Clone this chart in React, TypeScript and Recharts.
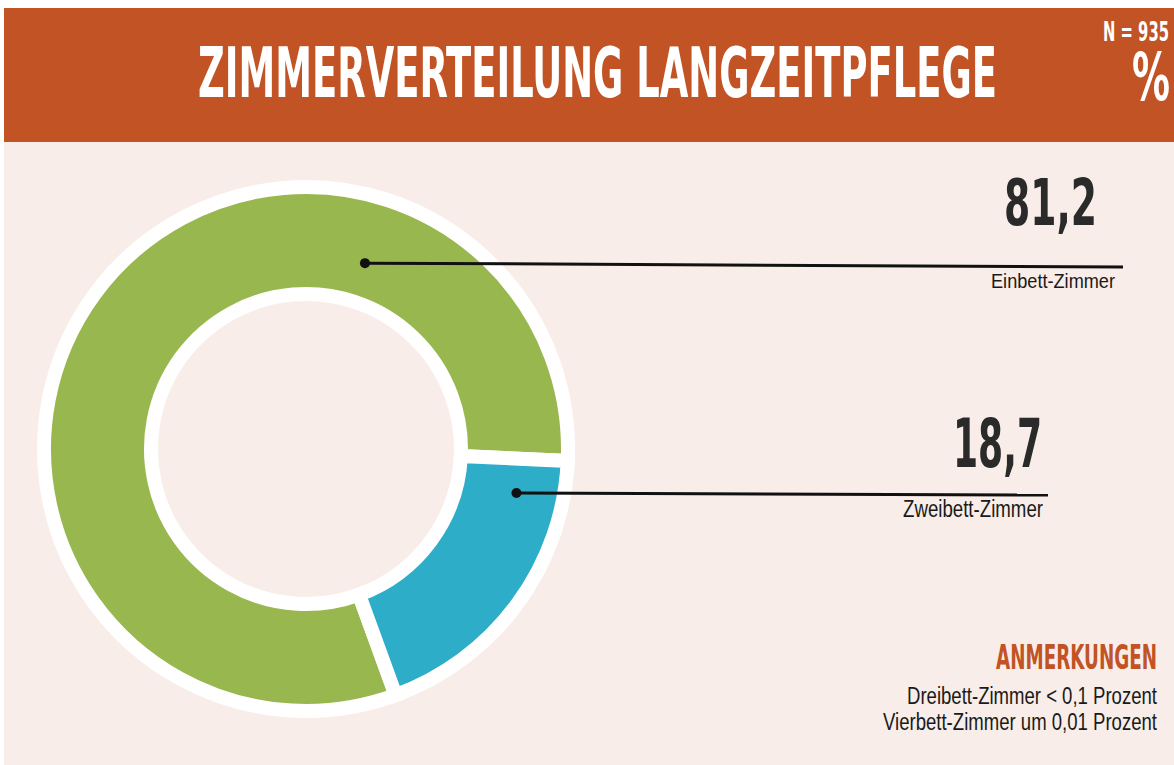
import React from "react";
import { PieChart, Pie, Cell } from "recharts";

const categories = ["Einbett-Zimmer", "Zweibett-Zimmer"];
const shares = [81.2, 18.7];
const sliceColors = ["#98B84F", "#2EADC8"];
const notes = ["Dreibett-Zimmer < 0,1 Prozent", "Vierbett-Zimmer um 0,01 Prozent"];
const title = "ZIMMERVERTEILUNG LANGZEITPFLEGE";
const sampleNote = "N = 935";

const pieData = categories.map((name, i) => ({ name, value: shares[i] }));

const DISPLAY = "'DejaVu Sans Condensed', 'Liberation Sans', sans-serif";
const NARROW = "'Liberation Sans', Arial, sans-serif";
const ORANGE = "#C15324";
const BG = "#F8EDE8";
const INK = "#2A2A2A";

// where each leader line starts (on the ring) and where its labels sit
const leaders = [
  { angle: 72.4, r: 195, x2: 1123, y2: 267, valueX: 1097, valueY: 225, valueSize: 64, valueW: 93, nameX: 1115, nameY: 288, nameSize: 21, nameW: 124 },
  { angle: -11.8, r: 215, x2: 1048, y2: 495, valueX: 1042, valueY: 467, valueSize: 68, valueW: 89, nameX: 1043, nameY: 517, nameSize: 23, nameW: 140 },
];

const fmt = (v: number) => v.toFixed(1).replace(".", ",");

function renderLabel(props: any) {
  const { cx, cy, index, value, name } = props;
  const l = leaders[index];
  if (!l) return null;
  const rad = (Math.PI / 180) * l.angle;
  const x1 = cx + l.r * Math.cos(rad);
  const y1 = cy - l.r * Math.sin(rad);
  return (
    <g>
      <line x1={x1} y1={y1} x2={l.x2} y2={l.y2} stroke="#111" strokeWidth={3} />
      <circle cx={x1} cy={y1} r={5} fill="#111" />
      <text
        x={l.valueX}
        y={l.valueY}
        textAnchor="end"
        fontFamily={DISPLAY}
        fontWeight="bold"
        fontSize={l.valueSize}
        fill={INK}
        textLength={l.valueW}
        lengthAdjust="spacingAndGlyphs"
      >
        {fmt(value)}
      </text>
      <text
        x={l.nameX}
        y={l.nameY}
        textAnchor="end"
        fontFamily={NARROW}
        fontSize={l.nameSize}
        fill="#1a1a1a"
        textLength={l.nameW}
        lengthAdjust="spacingAndGlyphs"
      >
        {name}
      </text>
    </g>
  );
}

export default function App() {
  return (
    <div style={{ position: "absolute", left: 0, top: 0, width: 1174, height: 765, background: "#fff", overflow: "hidden" }}>
      <div style={{ position: "absolute", left: 4, top: 8, width: 1170, height: 757, background: BG }} />
      <div style={{ position: "absolute", left: 4, top: 8, width: 1170, height: 134, background: ORANGE }} />

      <div style={{ position: "absolute", left: 0, top: 0 }}>
        <PieChart width={1174} height={765} margin={{ top: 0, right: 0, bottom: 0, left: 0 }}>
          <Pie
            data={pieData}
            dataKey="value"
            nameKey="name"
            cx={306}
            cy={449}
            outerRadius={262}
            innerRadius={155}
            startAngle={-70}
            endAngle={-430}
            stroke="#fff"
            strokeWidth={14}
            label={renderLabel}
            labelLine={false}
            isAnimationActive={false}
          >
            {pieData.map((d, i) => (
              <Cell key={d.name} fill={sliceColors[i]} stroke="#fff" strokeWidth={14} />
            ))}
          </Pie>
        </PieChart>
      </div>

      <svg width={1174} height={765} style={{ position: "absolute", left: 0, top: 0, pointerEvents: "none" }}>
        <text x={198} y={97} fontFamily={DISPLAY} fontWeight="bold" fontSize={70} fill="#fff" textLength={799} lengthAdjust="spacingAndGlyphs">
          {title}
        </text>
        <text x={1103} y={41} fontFamily={DISPLAY} fontWeight="bold" fontSize={26} fill="#fff" textLength={66} lengthAdjust="spacingAndGlyphs">
          {sampleNote}
        </text>
        <text x={1132} y={100} fontFamily={DISPLAY} fontWeight="bold" fontSize={66} fill="#fff" textLength={38} lengthAdjust="spacingAndGlyphs">
          %
        </text>

        <text x={1157} y={669} textAnchor="end" fontFamily={DISPLAY} fontWeight="bold" fontSize={33} fill={ORANGE} textLength={161} lengthAdjust="spacingAndGlyphs">
          ANMERKUNGEN
        </text>
        <text x={1157} y={704} textAnchor="end" fontFamily={NARROW} fontSize={23} fill="#1a1a1a" textLength={250} lengthAdjust="spacingAndGlyphs">
          {notes[0]}
        </text>
        <text x={1157} y={730} textAnchor="end" fontFamily={NARROW} fontSize={23} fill="#1a1a1a" textLength={274} lengthAdjust="spacingAndGlyphs">
          {notes[1]}
        </text>
      </svg>
    </div>
  );
}
